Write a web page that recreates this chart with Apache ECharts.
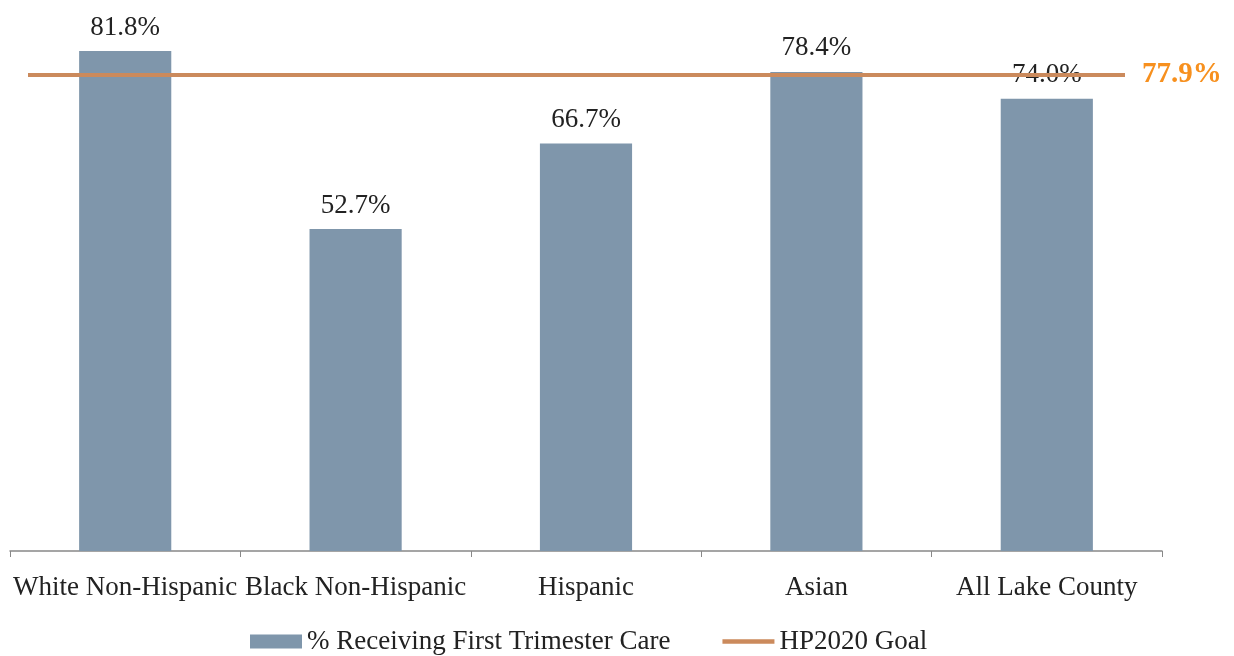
<!DOCTYPE html>
<html>
<head>
<meta charset="utf-8">
<script src="https://cdn.jsdelivr.net/npm/echarts@6/dist/echarts.min.js"></script>
<style>html,body{margin:0;padding:0;background:#fff;}#c{width:1234px;height:656px;}</style>
</head>
<body>
<div id="c"></div>
<script>
const categories = ['White Non-Hispanic', 'Black Non-Hispanic', 'Hispanic', 'Asian', 'All Lake County'];
const careValues = [81.8, 52.7, 66.7, 78.4, 74.0];
const GOAL = 77.9;
const goalValues = [GOAL, GOAL, GOAL, GOAL, GOAL];
const seriesNames = ['% Receiving First Trimester Care', 'HP2020 Goal'];

const FONT = 'Liberation Serif';
const LINE_ICON = 'path://M0,0L0.1,0L0.1,0.1Z M0,4.5h56v5h-56z M0,14L0.1,14L0.1,13.9Z';
const chart = echarts.init(document.getElementById('c'), null, {renderer: 'canvas'});
chart.setOption({
  animation: false,
  textStyle: {fontFamily: FONT},
  grid: {left: 10, right: 72, top: 1, bottom: 105, containLabel: false},
  legend: {
    top: 623, left: 245, itemGap: 52, itemWidth: 52, itemHeight: 14,
    textStyle: {fontFamily: FONT, fontSize: 27, color: '#222'},
    data: [
      {name: seriesNames[0], icon: 'rect'},
      {name: seriesNames[1], icon: LINE_ICON, itemStyle: {color: '#CB8A5C'}}
    ]
  },
  xAxis: {
    type: 'category', data: categories,
    axisLine: {lineStyle: {color: '#888', width: 1.5}},
    axisTick: {show: true, length: 6, lineStyle: {color: '#888'}},
    axisLabel: {fontFamily: FONT, fontSize: 27, color: '#222', margin: 23, interval: 0}
  },
  yAxis: {type: 'value', min: 0, max: 90, show: false, splitLine: {show: false}},
  series: [
    {
      name: seriesNames[0], type: 'bar', data: careValues, barWidth: '40%',
      itemStyle: {color: '#7F96AB'},
      label: {show: true, position: 'top', distance: 10, formatter: p => p.value.toFixed(1) + '%',
        fontFamily: FONT, fontSize: 27, color: '#222'}
    },
    {
      name: seriesNames[1], type: 'line', data: goalValues, symbol: 'none',
      lineStyle: {color: '#CB8A5C', width: 4},
      itemStyle: {color: '#CB8A5C'},
      z: 3,
      markLine: {
        silent: true, symbol: 'none',
        lineStyle: {color: '#CB8A5C', width: 4, type: 'solid'},
        label: {show: true, position: 'end', distance: 17, formatter: GOAL.toFixed(1) + '%',
          fontFamily: FONT, fontSize: 29, fontWeight: 'bold', color: '#F7901E'},
        data: [[{x: 28, yAxis: GOAL}, {x: 1125, yAxis: GOAL}]]
      }
    }
  ]
});
</script>
</body>
</html>
